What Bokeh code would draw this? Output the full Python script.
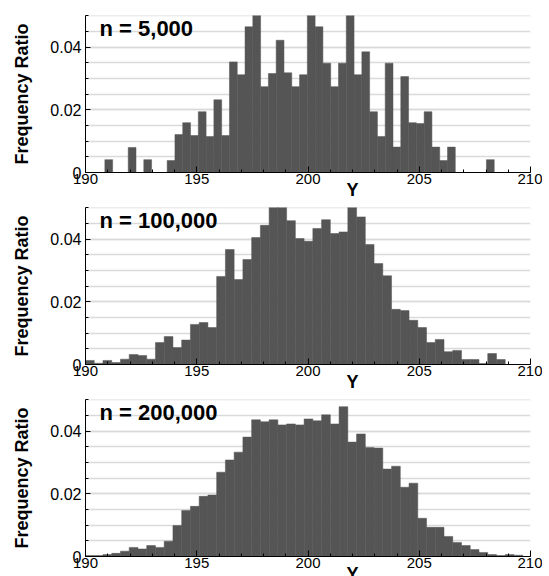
import numpy as np
from bokeh.plotting import figure
from bokeh.models import Range1d, SingleIntervalTicker, Label
from bokeh.layouts import column
from bokeh.embed import file_html
from bokeh.resources import INLINE

# ---- data ----
panel_labels = ["n = 5,000", "n = 100,000", "n = 200,000"]
bin_start = [190.87, 190.0, 190.0]
bin_width = [0.35, 0.393, 0.393]

freq_5k = [0.0041, 0, 0, 0.0080, 0, 0.0041, 0, 0, 0.0038, 0.0121,
           0.0159, 0.0118, 0.0194, 0.0115, 0.0232, 0.0118, 0.0353, 0.0312, 0.0465, 0.0508,
           0.0274, 0.0316, 0.0422, 0.0318, 0.0274, 0.0312, 0.0508, 0.0465, 0.0349, 0.0274,
           0.0349, 0.0508, 0.0312, 0.0385, 0.0194, 0.0115, 0.0349, 0.0081, 0.0306, 0.0159,
           0.0156, 0.0194, 0.0081, 0.0038, 0.0081, 0, 0, 0, 0, 0.0041]

freq_100k = [0.0013, 0.0004, 0.0013, 0.0006, 0.0017, 0.0032, 0.0029, 0.0017, 0.0070, 0.0089,
             0.0054, 0.0078, 0.0128, 0.0134, 0.0118, 0.0281, 0.0367, 0.0271, 0.0335, 0.0405,
             0.0444, 0.0508, 0.0508, 0.0459, 0.0402, 0.0393, 0.0434, 0.0462, 0.0418, 0.0423,
             0.0508, 0.0471, 0.0383, 0.0322, 0.0283, 0.0176, 0.0172, 0.0141, 0.0118, 0.0070,
             0.0080, 0.0041, 0.0045, 0.0016, 0.0016, 0.0003, 0.0035, 0.0016, 0, 0]

freq_200k = [0.0003, 0.0003, 0.0006, 0.0010, 0.0017, 0.0029, 0.0024, 0.0035, 0.0029, 0.0049,
             0.0099, 0.0147, 0.0160, 0.0192, 0.0196, 0.0269, 0.0308, 0.0333, 0.0381, 0.0436,
             0.0430, 0.0436, 0.0420, 0.0423, 0.0420, 0.0439, 0.0433, 0.0452, 0.0423, 0.0478,
             0.0365, 0.0391, 0.0348, 0.0346, 0.0279, 0.0288, 0.0221, 0.0234, 0.0122, 0.0093,
             0.0093, 0.0064, 0.0045, 0.0035, 0.0022, 0.0013, 0.0006, 0.0003, 0.0006, 0.0004]

all_freqs = [freq_5k, freq_100k, freq_200k]
x_label = "Y"
y_label = "Frequency Ratio"

FONT = "Liberation Sans"
BAR = "#555555"
GRID = "#dadada"

FRAME_W = 445


def make_panel(label_text, start, width, freqs, fig_height, border_top, border_bottom):
    edges = start + width * np.arange(len(freqs) + 1)
    p = figure(width=542, height=fig_height,
               x_range=Range1d(190, 210), y_range=Range1d(0, 0.0501),
               output_backend="svg", toolbar_location=None,
               min_border_left=85, min_border_right=12,
               min_border_top=border_top, min_border_bottom=border_bottom)
    p.quad(left=edges[:-1], right=edges[1:], top=freqs, bottom=0,
           fill_color=BAR, line_color=BAR, line_width=0.5)
    p.outline_line_color = None
    p.xgrid.visible = False
    p.ygrid.grid_line_color = GRID
    p.ygrid.grid_line_width = 1.3
    p.ygrid.minor_grid_line_color = GRID
    p.ygrid.minor_grid_line_width = 1.3

    xa = p.xaxis[0]
    xa.ticker = SingleIntervalTicker(interval=5, num_minor_ticks=5)
    xa.axis_line_color = "black"
    xa.major_tick_in = 6
    xa.major_tick_out = 0
    xa.minor_tick_in = 3
    xa.minor_tick_out = 0
    xa.major_tick_line_color = "black"
    xa.minor_tick_line_color = "black"
    xa.major_label_standoff = 1
    xa.major_label_text_font = FONT
    xa.major_label_text_font_size = "15px"
    xa.major_label_text_color = "black"

    ya = p.yaxis[0]
    ya.ticker = SingleIntervalTicker(interval=0.02, num_minor_ticks=4)
    ya.major_label_overrides = {0: "0"}
    ya.axis_line_color = "black"
    ya.major_tick_in = 5
    ya.major_tick_out = 0
    ya.minor_tick_in = 3
    ya.minor_tick_out = 0
    ya.major_tick_line_color = "black"
    ya.minor_tick_line_color = "black"
    ya.major_label_standoff = 4
    ya.major_label_text_font = FONT
    ya.major_label_text_font_size = "16px"
    ya.major_label_text_color = "black"
    ya.axis_label = y_label
    ya.axis_label_text_font = FONT
    ya.axis_label_text_font_style = "bold"
    ya.axis_label_text_font_size = "18px"
    ya.axis_label_text_color = "black"
    ya.axis_label_standoff = 15

    p.add_layout(Label(x=190.63, y=0.0501, x_units="data", y_units="data",
                       text=label_text, text_font=FONT, text_font_style="bold",
                       text_font_size="22px", text_color="black",
                       text_baseline="top", text_align="left"))
    # x-axis title "Y", sits off-centre (around x = 202) just under the tick labels
    p.add_layout(Label(x=-(FRAME_W - 267), y=-7, x_units="screen", y_units="screen",
                       text=x_label, text_font=FONT, text_font_style="bold",
                       text_font_size="18px", text_color="black",
                       text_baseline="top", text_align="center"), "right")
    return p


heights = [200, 192, 184]
tops = [15, 7, 7]
bottoms = [28, 28, 20]
figs = [make_panel(panel_labels[i], bin_start[i], bin_width[i], all_freqs[i],
                   heights[i], tops[i], bottoms[i]) for i in range(3)]

layout = column(*figs, spacing=0)
open("out.html", "w").write(file_html(layout, INLINE))
